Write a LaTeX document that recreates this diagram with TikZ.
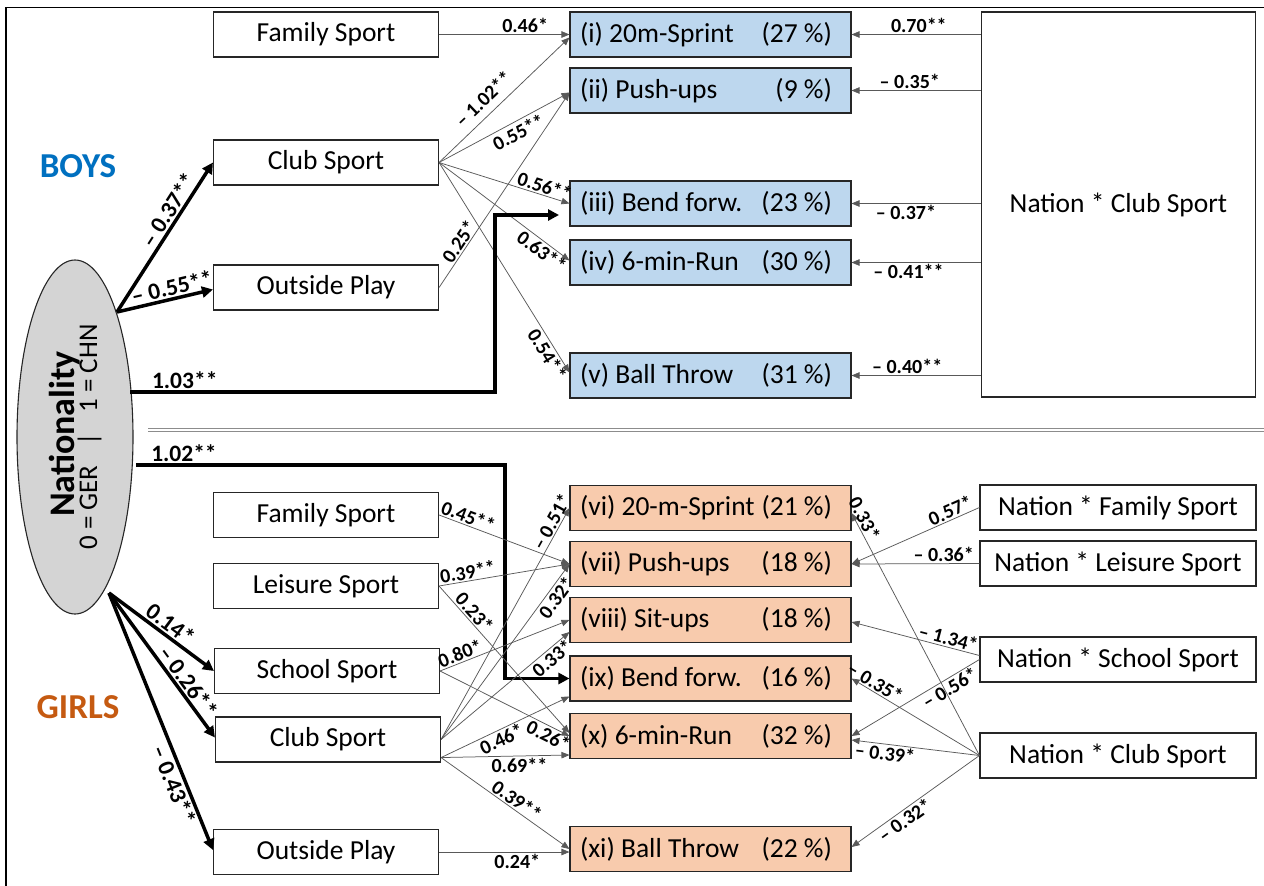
\documentclass[tikz,border=0pt]{standalone}
\usepackage{fontspec}
\setmainfont{Carlito}
\usetikzlibrary{arrows.meta,shapes.geometric,calc}
\definecolor{boyfill}{HTML}{BDD7EE}
\definecolor{girlfill}{HTML}{F8CBAD}
\definecolor{boyblue}{HTML}{0070C0}
\definecolor{girlorange}{HTML}{C55A11}
\newcommand{\outtxt}[2]{\hbox to 281pt{\hskip10pt #1\hfil #2\hskip19pt}}
\begin{document}
\begin{tikzpicture}[x=1pt,y=-1pt,
 box/.style={draw=black!85, line width=1.1pt, inner sep=0pt, minimum height=45pt, font=\fontsize{27.5}{30}\selectfont},
 srcbox/.style={box, minimum width=225pt},
 nbox/.style={box, minimum width=276pt},
 boyout/.style={box, fill=boyfill, minimum width=281pt},
 girlout/.style={box, fill=girlfill, minimum width=281pt},
 tarrow/.style={draw=black!65, line width=0.75pt, -{Triangle[length=8pt,width=6.5pt]}},
 rarrow/.style={draw=black!65, line width=0.75pt, {Triangle[length=8pt,width=6.5pt]}-},
 barrow/.style={draw=black, line width=3.5pt, -{Triangle[length=11pt,width=11pt]}},
 lab/.style={font=\bfseries\fontsize{20}{22}\selectfont, inner sep=1.5pt, text=black},
 tlab/.style={font=\bfseries\fontsize{23.5}{25}\selectfont, inner sep=1.5pt, text=black},
]
\useasboundingbox (0,0) rectangle (1264,886);
\draw[line width=1.2pt] (6,886) -- (6,7.5) -- (1264,7.5);
\draw[draw=black!45, double=white, double distance=2pt, line width=0.9pt] (148,430) -- (1264,430);

% Nationality
\node[ellipse, draw=black!85, line width=1.1pt, fill=black!17, minimum width=116pt, minimum height=354pt, inner sep=0pt] (nat) at (75,437) {};
\node[rotate=90, anchor=base, font=\bfseries\fontsize{36}{40}\selectfont] (natT) at (74,434) {Nationality};
\node[rotate=90, anchor=base, font=\fontsize{27}{30}\selectfont] (natS) at (97,437) {0 = GER\hspace{0.75em}|\hspace{0.75em}1 = CHN};

\node[font=\bfseries\fontsize{35}{38}\selectfont, text=boyblue] (boys) at (78,166) {BOYS};
\node[font=\bfseries\fontsize{35}{38}\selectfont, text=girlorange] (girls) at (78,707) {GIRLS};

% Boys nodes
\node[srcbox] (FamB) at (326,34.5) {Family Sport};
\node[srcbox] (ClubB) at (326,162.5) {Club Sport};
\node[srcbox] (OutB) at (326,287.5) {Outside Play};
\node[boyout] (oi) at (710.5,34.5) {\outtxt{(i) 20m-Sprint}{(27 \%)}};
\node[boyout] (oii) at (710.5,90.5) {\outtxt{(ii) Push-ups}{(9 \%)}};
\node[boyout] (oiii) at (710.5,203.5) {\outtxt{(iii) Bend forw.}{(23 \%)}};
\node[boyout] (oiv) at (710.5,262.5) {\outtxt{(iv) 6-min-Run}{(30 \%)}};
\node[boyout] (ov) at (710.5,375.5) {\outtxt{(v) Ball Throw}{(31 \%)}};
\node[box, minimum width=274pt, minimum height=385pt] (NCB) at (1118.5,204.5) {Nation * Club Sport};

% Girls nodes
\node[srcbox] (FamG) at (326,515) {Family Sport};
\node[srcbox] (LeiG) at (326,586) {Leisure Sport};
\node[srcbox] (SchG) at (327,671) {School Sport};
\node[srcbox] (ClubG) at (328,739.5) {Club Sport};
\node[srcbox] (OutG) at (326,852) {Outside Play};
\node[girlout] (ovi) at (710.5,508) {\outtxt{(vi) 20-m-Sprint}{(21 \%)}};
\node[girlout] (ovii) at (710.5,564) {\outtxt{(vii) Push-ups}{(18 \%)}};
\node[girlout] (oviii) at (710.5,620) {\outtxt{(viii) Sit-ups}{(18 \%)}};
\node[girlout] (oix) at (710.5,678.5) {\outtxt{(ix) Bend forw.}{(16 \%)}};
\node[girlout] (ox) at (710.5,736) {\outtxt{(x) 6-min-Run}{(32 \%)}};
\node[girlout] (oxi) at (710.5,849) {\outtxt{(xi) Ball Throw}{(22 \%)}};
\node[nbox] (NFG) at (1118,507.5) {Nation * Family Sport};
\node[nbox] (NLG) at (1118,563.5) {Nation * Leisure Sport};
\node[nbox] (NSG) at (1118,659.5) {Nation * School Sport};
\node[nbox] (NCG) at (1118,755.5) {Nation * Club Sport};

% coordinates
\coordinate (nb) at (117,312);
\coordinate (n103) at (130,392);
\coordinate (e103) at (559,215);
\coordinate (n102) at (136,465);
\coordinate (ng) at (109,593);
\coordinate (cgl) at ($(ClubG.south east)+(0,-5)$);

% Boys edges
\draw[tarrow] (FamB.east) -- node[lab, above, pos=.66] {0.46*} (oi.west);
\draw[tarrow] (ClubB.east) -- node[lab, sloped, above=6pt, pos=.42] {– 1.02**} ($(oi.west)+(0,3)$);
\draw[tarrow] (ClubB.east) -- node[lab, sloped, below=2pt, pos=.57] {0.55**} ($(oii.west)+(0,2)$);
\draw[tarrow] (ClubB.east) -- node[lab, sloped, above, pos=.79] {0.56**} (oiii.west);
\draw[tarrow] (ClubB.east) -- node[lab, sloped, below, pos=.83] {0.63**} ($(oiv.west)+(0,-2)$);
\draw[tarrow] (ClubB.east) -- node[lab, sloped, below, pos=.89] {0.54**} ($(ov.west)+(0,-3)$);
\draw[tarrow] (OutB.east) -- node[lab, sloped, above, pos=.21] {0.25*} ($(oii.west)+(0,2)$);

\draw[rarrow] (oi.east) -- node[lab, above, pos=.52] {0.70**} (oi.east -| NCB.west);
\draw[rarrow] (oii.east) -- node[lab, above, pos=.45] {– 0.35*} (oii.east -| NCB.west);
\draw[rarrow] (oiii.east) -- node[lab, below, pos=.42] {– 0.37*} (oiii.east -| NCB.west);
\draw[rarrow] (oiv.east) -- node[lab, below, pos=.44] {– 0.41**} (oiv.east -| NCB.west);
\draw[rarrow] (ov.east) -- node[lab, above, pos=.43] {– 0.40**} (ov.east -| NCB.west);

\draw[barrow] (nb) -- node[tlab, sloped, above, pos=.64] {– 0.37**} (ClubB.west);
\draw[barrow] (nb) -- node[tlab, sloped, above, pos=.6] {– 0.55**} ($(OutB.west)+(0,2)$);
\draw[barrow] (n103) -- node[tlab, above, pos=.15] {1.03**} (495,392) |- (e103);

% Girls edges
\draw[barrow] (ng) -- node[tlab, sloped, above, pos=.52] {0.14*} (SchG.west);
\draw[barrow] (ng) -- node[tlab, sloped, above, pos=.66] {– 0.26**} ($(ClubG.west)+(0,-2)$);
\draw[barrow] (ng) -- node[tlab, sloped, below, pos=.73] {– 0.43**} ($(OutG.west)+(0,-2)$);
\draw[barrow] (n102) -- node[tlab, above, pos=.13] {1.02**} (505,465) |- (oix.west);

\draw[tarrow] (FamG.east) -- node[lab, sloped, above, pos=.2] {0.45**} (ovii.west);
\draw[tarrow] (LeiG.east) -- node[lab, sloped, above, pos=.23] {0.39**} (ovii.west);
\draw[tarrow] (LeiG.east) -- node[lab, sloped, above, pos=.22] {0.23*} ($(ox.west)+(0,-3)$);
\draw[tarrow] (SchG.east) -- node[lab, sloped, above, pos=.18] {0.80*} (oviii.west);
\draw[tarrow] (SchG.east) -- node[lab, sloped, below, pos=.87] {0.26*} (ox.west);
\draw[tarrow] (ClubG.east) -- node[lab, sloped, above, pos=.92] {– 0.51*} (ovi.west);
\draw[tarrow] (ClubG.east) -- node[lab, sloped, below, pos=.84] {0.32*} (ovii.west);
\draw[tarrow] (ClubG.east) -- node[lab, sloped, below, pos=.82] {0.33*} ($(oviii.west)+(0,12)$);
\draw[tarrow] (cgl) -- node[lab, sloped, below, pos=.44] {0.46*} ($(oix.west)+(0,18)$);
\draw[tarrow] (cgl) -- node[lab, below, pos=.61] {0.69**} ($(ox.west)+(0,19)$);
\draw[tarrow] (cgl) -- node[lab, sloped, above, pos=.55] {0.39**} (oxi.west);
\draw[tarrow] (OutG.east) -- node[lab, below, pos=.6] {0.24*} (OutG.east -| oxi.west);

\draw[rarrow] (ovii.east) -- node[lab, sloped, above, pos=.8] {0.57*} (NFG.west);
\draw[rarrow] (ovii.east) -- node[lab, above, pos=.72] {– 0.36*} (NLG.west);
\draw[rarrow] ($(oviii.east)+(0,2)$) -- node[lab, sloped, above, pos=.74] {– 1.34*} ($(NSG.west)+(0,-4)$);
\draw[rarrow] (ox.east) -- node[lab, sloped, below, pos=.73] {– 0.56*} (NSG.west);
\draw[rarrow] ($(ovi.east)+(0,5)$) -- node[lab, sloped, above, pos=.04] {0.33*} (NCG.west);
\draw[rarrow] (oix.east) -- node[lab, sloped, above, pos=.15] {– 0.35*} (NCG.west);
\draw[rarrow] ($(ox.east)+(0,4)$) -- node[lab, sloped, below, pos=.27] {– 0.39*} (NCG.west);
\draw[rarrow] ($(oxi.east)+(0,-2)$) -- node[lab, sloped, below, pos=.375] {– 0.32*} (NCG.west);
\end{tikzpicture}
\end{document}
